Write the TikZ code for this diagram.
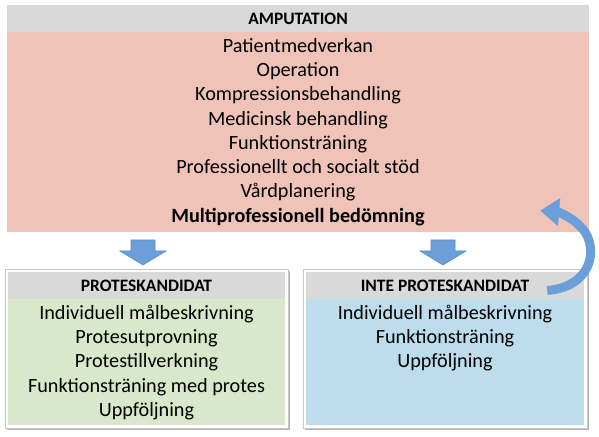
\documentclass[tikz,border=0pt]{standalone}
\usepackage{fontspec}
\setmainfont{Carlito}
\usetikzlibrary{arrows.meta,calc}
\definecolor{hdrgray}{HTML}{D9D9D9}
\definecolor{pinkfill}{HTML}{EFC3B7}
\definecolor{greenfill}{HTML}{D9E8CB}
\definecolor{bluefill}{HTML}{BDDDEC}
\definecolor{arrowblue}{HTML}{6C9FD9}
\definecolor{arrowedge}{HTML}{5A8CCB}
\begin{document}
\begin{tikzpicture}[x=1bp,y=-1bp,
  hdr/.style={fill=hdrgray, draw=none, inner sep=0pt, font=\fontsize{17.5}{17.5}\selectfont\bfseries, text height=11.3bp, text depth=0bp},
  panel/.style={draw=none, inner sep=0pt},
  bodytext/.style={align=center, inner sep=0pt, font=\fontsize{20.3}{24.4}\selectfont},
  frame/.style={fill=white, draw=black!22, line width=0.5bp},
  shadowbox/.style={fill=black!30, draw=none},
  blockarrow/.style={fill=arrowblue, draw=arrowedge, line width=0.6bp, line join=miter},
  curvearrow/.style={draw=arrowblue, line width=9bp, -{Triangle[length=19bp,width=27bp]}}
]
\useasboundingbox (0,0) rectangle (599,437);
\fill[white] (0,0) rectangle (599,437);

% top box
\node[hdr, minimum width=582bp, minimum height=27bp] (amph) at (298,18.5) {AMPUTATION};
\node[panel, fill=pinkfill, minimum width=582bp, minimum height=200bp, anchor=north] (amp) at (amph.south) {};
\node[bodytext, anchor=base] (amptxt) at (298,222.3) {Patientmedverkan\\Operation\\Kompressionsbehandling\\Medicinsk behandling\\Funktionsträning\\Professionellt och socialt stöd\\Vårdplanering\\\textbf{Multiprofessionell bedömning}};

% left box
\fill[shadowbox] (7,271) rectangle (290,430);
\draw[frame] (5,269) rectangle (288,428);
\node[hdr, minimum width=277bp, minimum height=27bp] (proth) at (146.5,285.5) {PROTESKANDIDAT};
\node[panel, fill=greenfill, minimum width=277bp, minimum height=126bp, anchor=north] (prot) at (proth.south) {};
\node[bodytext, anchor=base] (prottxt) at (146.5,416.6) {Individuell målbeskrivning\\Protesutprovning\\Protestillverkning\\Funktionsträning med protes\\Uppföljning};

% right box
\fill[shadowbox] (305,271) rectangle (589,430);
\draw[frame] (303,269) rectangle (587,428);
\node[hdr, minimum width=278bp, minimum height=27bp] (noth) at (445,285.5) {INTE PROTESKANDIDAT};
\node[panel, fill=bluefill, minimum width=278bp, minimum height=126bp, anchor=north] (not) at (noth.south) {};
\node[bodytext, anchor=base] (nottxt) at (445,367.8) {Individuell målbeskrivning\\Funktionsträning\\Uppföljning};

% down arrows
\draw[blockarrow, shift={(143,240)}] (-12,0) -- (12,0) -- (12,11) -- (23,11) -- (0,25) -- (-23,11) -- (-12,11) -- cycle;
\draw[blockarrow, shift={(443,240)}] (-12,0) -- (12,0) -- (12,11) -- (23,11) -- (0,25) -- (-23,11) -- (-12,11) -- cycle;

% curved arrow back
\coordinate (cs) at ($(noth.east)+(-37,5)$);
\coordinate (ce) at ($(amp.south east)+(-49,-22)$);
\draw[curvearrow] (cs) .. controls (590,287) and (598,252) .. (585,232) .. controls (575,218) and (558,212) .. (ce);
\end{tikzpicture}
\end{document}
